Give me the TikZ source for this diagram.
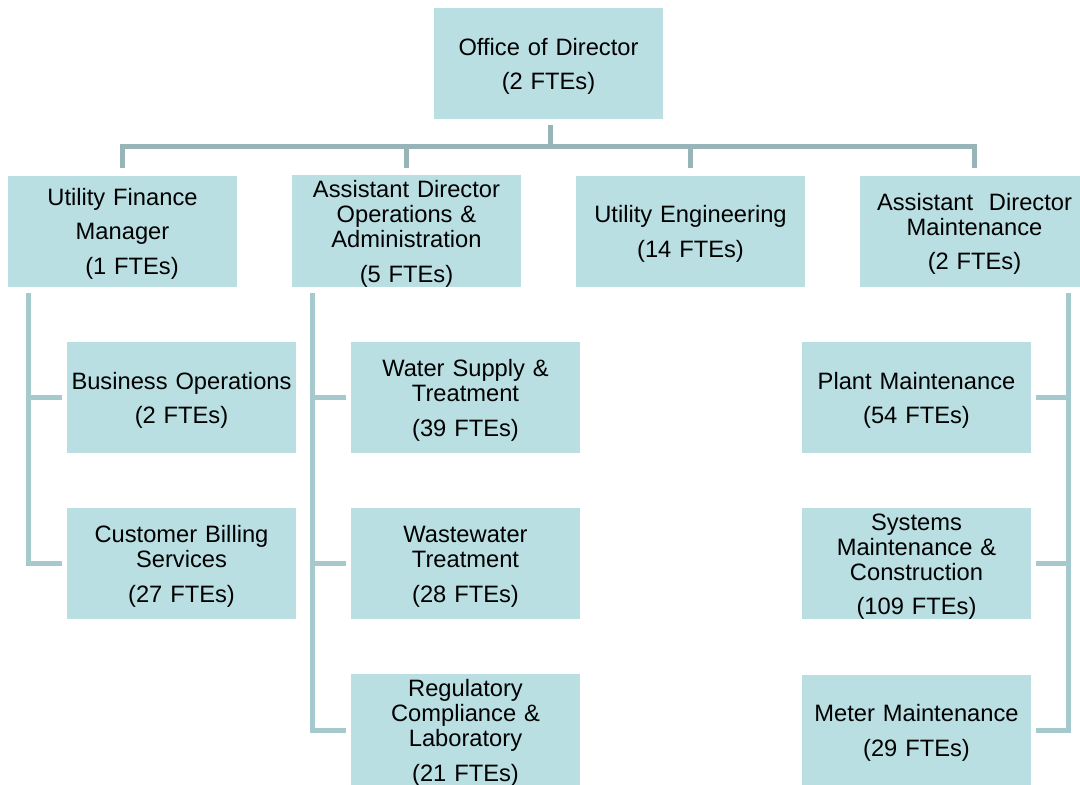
\documentclass[tikz,border=0pt]{standalone}
\usepackage{fontspec}
\setmainfont{Liberation Sans}
\definecolor{boxfill}{HTML}{B9DFE3}
\definecolor{topline}{HTML}{97B4B8}
\definecolor{sideline}{HTML}{A6C9CD}
\begin{document}
\begin{tikzpicture}[x=1pt,y=-1pt,
  unit/.style={fill=boxfill, draw=none, minimum width=229pt, minimum height=111pt,
    inner xsep=2pt, inner ysep=0pt, text width=225pt, align=center,
    font=\fontsize{23.7}{25}\selectfont,
    execute at begin node={\rule{0pt}{22.5pt}}},
  topconn/.style={draw=topline, line width=5pt, shorten <=6pt, shorten >=7pt},
  sideconn/.style={draw=sideline, line width=5pt}]
\useasboundingbox (0,0) rectangle (1080,785);
\node[unit] (dir) at (548.5,63.5) {Office of Director\\[9.5pt](2 FTEs)};
\node[unit] (ufm) at (122.5,231) {Utility Finance\\[9.5pt]Manager\\[9.5pt]\hspace*{19pt}(1 FTEs)};
\node[unit] (adoa) at (406.5,231) {Assistant Director\\Operations \&\\Administration\\[9.5pt](5 FTEs)};
\node[unit] (ue) at (690.5,231) {Utility Engineering\\[9.5pt](14 FTEs)};
\node[unit] (adm) at (974.5,231) {Assistant\ \ Director\\Maintenance\\[9.5pt](2 FTEs)};
\node[unit] (bo) at (181.5,397.5) {Business Operations\\[9.5pt](2 FTEs)};
\node[unit] (cb) at (181.5,563.5) {Customer Billing\\Services\\[9.5pt](27 FTEs)};
\node[unit] (ws) at (465.5,397.5) {Water Supply \&\\Treatment\\[9.5pt](39 FTEs)};
\node[unit] (ww) at (465.5,563.5) {Wastewater\\Treatment\\[9.5pt](28 FTEs)};
\node[unit] (rc) at (465.5,730) {Regulatory\\Compliance \&\\Laboratory\\[9.5pt](21 FTEs)};
\node[unit] (pm) at (916.5,397.5) {Plant Maintenance\\[9.5pt](54 FTEs)};
\node[unit] (sm) at (916.5,563.5) {Systems\\Maintenance \&\\Construction\\[9.5pt](109 FTEs)};
\node[unit] (mm) at (916.5,730) {Meter Maintenance\\[9.5pt](29 FTEs)};
% top connectors
\foreach \t in {ufm,adoa,ue,adm}
  \draw[topconn] ([xshift=1.5pt]dir.south) -- ++(0,27) -| (\t.north);
% left branch
\draw[sideconn] ([xshift=21pt,yshift=-6pt]ufm.south west) |- ([xshift=-5pt]bo.west);
\draw[sideconn] ([xshift=21pt,yshift=-6pt]ufm.south west) |- ([xshift=-5pt]cb.west);
% middle branch
\draw[sideconn] ([xshift=21pt,yshift=-6pt]adoa.south west) |- ([xshift=-5pt]ws.west);
\draw[sideconn] ([xshift=21pt,yshift=-6pt]adoa.south west) |- ([xshift=-5pt]ww.west);
\draw[sideconn] ([xshift=21pt,yshift=-6pt]adoa.south west) |- ([xshift=-5pt]rc.west);
% right branch
\draw[sideconn] ([xshift=-21pt,yshift=-6pt]adm.south east) |- ([xshift=5pt]pm.east);
\draw[sideconn] ([xshift=-21pt,yshift=-6pt]adm.south east) |- ([xshift=5pt]sm.east);
\draw[sideconn] ([xshift=-21pt,yshift=-6pt]adm.south east) |- ([xshift=5pt]mm.east);
\end{tikzpicture}
\end{document}
